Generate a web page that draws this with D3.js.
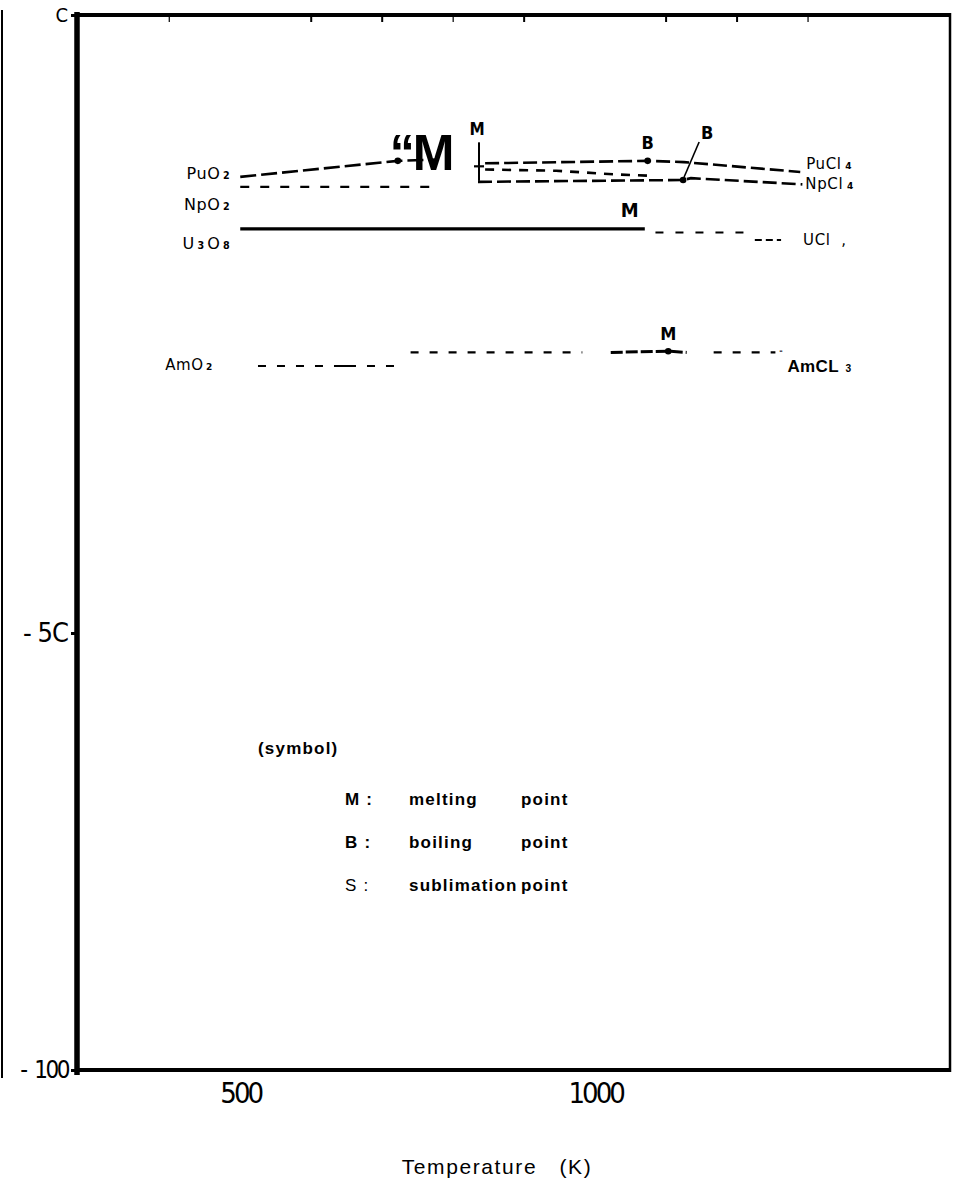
<!DOCTYPE html>
<html>
<head>
<meta charset="utf-8">
<script src="https://cdn.jsdelivr.net/npm/d3@7"></script>
<style>
  html, body { margin: 0; padding: 0; background: #fff; }
  svg { display: block; }
</style>
</head>
<body>
<svg id="chart" width="965" height="1189"></svg>
<script>
// Free energy lines (kcal per g-atom) against temperature (K) for actinide oxides and chlorides.
const puO2   = [[500, -13.1], [722, -11.8], [777, -11.7]];
const npO2   = [[500, -13.9], [775, -13.9]];
const puCl4  = [[845, -12.0], [1074, -11.8], [1125, -11.9], [1289, -12.7]];
const npCl4  = [[835, -13.5], [1124, -13.35], [1135, -13.2], [1292, -13.7]];
const clMid  = [[845, -12.5], [945, -12.6], [1030, -12.9], [1075, -13.0]];
const u3O8   = [[500, -17.3], [1070, -17.3]];
const uCl4a  = [[1085, -17.6], [1215, -17.6]];
const uCl4b  = [[1225, -18.2], [1262, -18.2]];
const amO2   = [[525, -28.4], [728, -28.4]];
const amCl3a = [[740, -27.3], [982, -27.3]];
const amCl3b = [[1022, -27.3], [1103, -27.2], [1129, -27.3]];
const amCl3c = [[1167, -27.3], [1254, -27.3]];

// transition points: [temperature, value, symbol]
const transitions = [
  [722, -11.8, ""],
  [1074, -11.8, "B"],
  [1124, -13.35, "B"],
  [1103, -27.2, "M"]
];

const yTicks = [0, -50, -100];
const yTickText = ["C", "- 5C", "-\u00a0\u00a0100"];
const xTicks = [500, 1000];
const xTickText = ["500", "1000"];
const topTicks = [400, 600, 700, 800, 900, 1100, 1200, 1300];

const legendTitle = "(symbol)";
const legendRows = [
  ["M :", "melting", "point"],
  ["B :", "boiling", "point"],
  ["S :", "sublimation", "point"]
];

const svg = d3.select("#chart");
const L = 77, R = 950, T = 15, B = 1070;

const x = d3.scaleLinear().domain([270, 1500]).range([L, R]);
const y = d3.scaleLinear().domain([0, -50, -100]).range([T, 633, B]);

const line = d3.line().x(d => x(d[0])).y(d => y(d[1]));

// frame
svg.append("line").attr("x1", 2).attr("x2", 2).attr("y1", 10).attr("y2", 1078)
  .attr("stroke", "#000").attr("stroke-width", 2);
svg.append("line").attr("x1", L).attr("x2", R).attr("y1", T).attr("y2", T)
  .attr("stroke", "#000").attr("stroke-width", 4);
svg.append("line").attr("x1", L).attr("x2", R).attr("y1", B).attr("y2", B)
  .attr("stroke", "#000").attr("stroke-width", 4);
svg.append("line").attr("x1", R).attr("x2", R).attr("y1", T - 2).attr("y2", B + 2)
  .attr("stroke", "#000").attr("stroke-width", 2.5);
svg.append("line").attr("x1", L).attr("x2", L).attr("y1", T - 3).attr("y2", B + 5)
  .attr("stroke", "#000").attr("stroke-width", 5.5);

// small tick marks hanging from the top frame
svg.append("g").selectAll("line").data(topTicks).join("line")
  .attr("x1", d => x(d)).attr("x2", d => x(d))
  .attr("y1", T).attr("y2", T + 7)
  .attr("stroke", "#000").attr("stroke-width", d => (d === 400 || d === 800 || d === 1300) ? 1.2 : 2);

// y axis
const narrow = "'Liberation Sans Narrow', 'DejaVu Sans Condensed', sans-serif";
const yAxis = d3.axisLeft(y).tickValues(yTicks).tickSize(4).tickSizeOuter(0)
  .tickFormat((d, i) => yTickText[i]);
const gy = svg.append("g").attr("transform", `translate(${L - 2},0)`).call(yAxis);
gy.select(".domain").remove();
gy.selectAll(".tick text")
  .attr("fill", "#000")
  .attr("x", -7)
  .style("font-family", narrow)
  .style("font-size", (d, i) => ["20px", "27px", "24px"][i])
  .style("letter-spacing", (d, i) => ["0px", "-1px", "-2.5px"][i]);
gy.selectAll(".tick line").attr("stroke-width", 3).attr("stroke", "#000");

// x axis labels
const xAxis = d3.axisBottom(x).tickValues(xTicks).tickSize(0)
  .tickFormat((d, i) => xTickText[i]);
const gx = svg.append("g").attr("transform", `translate(0,${B})`).call(xAxis);
gx.select(".domain").remove();
gx.selectAll(".tick text")
  .attr("fill", "#000")
  .attr("y", 33)
  .attr("dy", 0)
  .style("font-family", narrow)
  .style("font-size", "29px")
  .style("letter-spacing", "-3px");

svg.append("text").attr("x", 497).attr("y", 1174).attr("text-anchor", "middle")
  .style("font-family", "'Liberation Sans', Arial, sans-serif")
  .style("font-size", "21px").style("letter-spacing", "1.6px")
  .text("Temperature\u00a0\u00a0 (K)");

// data lines
function drawLine(data, dash, width) {
  svg.append("path").datum(data).attr("d", line)
    .attr("fill", "none").attr("stroke", "#000")
    .attr("stroke-width", width).attr("stroke-dasharray", dash);
}
drawLine(puO2, "16,5", 2.6);
drawLine(npO2, "9,11", 2.2);
drawLine(puCl4, "14,5", 2.6);
drawLine(npCl4, "14,5", 2.6);
drawLine(clMid, "9,8", 2.6);
drawLine(u3O8, null, 3.2);
drawLine(uCl4a, "8,12", 2);
drawLine(uCl4b, "7,4", 2);
drawLine(amO2, "8,11,8,11,8,11,8,11,22,11,8,11", 2.2);
drawLine(amCl3a, "8,11", 2.2);
drawLine(amCl3b, "12,3", 3);
drawLine(amCl3c, "8,11", 2.2);

// transition dots
svg.append("g").selectAll("circle").data(transitions).join("circle")
  .attr("cx", d => x(d[0])).attr("cy", d => y(d[1])).attr("r", 3.3).attr("fill", "#000");

const bold = "'Liberation Sans', Arial, sans-serif";
function label(px, py, txt, size) {
  return svg.append("text").attr("x", px).attr("y", py)
    .attr("text-anchor", "middle")
    .style("font-family", narrow).style("font-size", size + "px")
    .style("font-weight", "bold").text(txt);
}

// symbol labels on the transition points
label(x(transitions[1][0]), y(transitions[1][1]) - 12, "B", 18);
label(x(transitions[2][0]) + 24, y(transitions[2][1]) - 41, "B", 18);
svg.append("line")
  .attr("x1", x(transitions[2][0]) + 16).attr("y1", y(transitions[2][1]) - 38)
  .attr("x2", x(transitions[2][0]) + 1).attr("y2", y(transitions[2][1]) - 3)
  .attr("stroke", "#000").attr("stroke-width", 1.6);
label(x(transitions[3][0]), y(transitions[3][1]) - 11, "M", 18);
label(x(u3O8[1][0]) - 15, y(u3O8[1][1]) - 12, "M", 20);

// melting mark above the chloride pair
const mx = x(835) + 1;
label(mx - 2, y(-12.0) - 28, "M", 17);
svg.append("line").attr("x1", mx).attr("x2", mx)
  .attr("y1", y(-12.0) - 21).attr("y2", y(-13.5) - 1)
  .attr("stroke", "#000").attr("stroke-width", 2);
svg.append("line").attr("x1", mx - 5).attr("x2", mx + 5)
  .attr("y1", y(-12.0) + 3).attr("y2", y(-12.0) + 3)
  .attr("stroke", "#000").attr("stroke-width", 2.2);
svg.append("text").attr("x", x(777) - 47).attr("y", y(-11.7) + 10)
  .style("font-family", bold).style("font-size", "50px").style("font-weight", "bold")
  .style("letter-spacing", "-2px")
  .text("\u201cM");

// species labels; parts are [text, isSubscript]
const species = "'DejaVu Sans', sans-serif";
function formula(px, py, parts, anchor, size, weight) {
  const t = svg.append("text").attr("x", px).attr("y", py)
    .attr("text-anchor", anchor || "start")
    .style("font-family", weight ? bold : species)
    .style("font-weight", weight || "normal")
    .style("font-size", size + "px")
    .style("letter-spacing", weight ? "0.4px" : "0.6px");
  parts.forEach(p => {
    const s = t.append("tspan").text(p[0]);
    if (p[1]) s.style("font-size", (size * 0.6) + "px").style("font-weight", "bold");
  });
  return t;
}
const lx = x(500) - 10;
formula(lx, y(puO2[0][1]) + 2, [["PuO"], ["\u20092", 1]], "end", 16);
formula(lx, y(npO2[0][1]) + 23, [["NpO"], ["\u20092", 1]], "end", 16);
formula(lx, y(u3O8[0][1]) + 20, [["U"], ["\u20093\u2009", 1], ["O"], ["\u20098", 1]], "end", 16);
formula(x(amO2[0][0]) - 45, y(amO2[0][1]) + 4, [["AmO"], ["\u20092", 1]], "end", 15);

formula(x(puCl4[3][0]) + 6, y(puCl4[3][1]) - 3, [["PuCl"], ["\u00a04", 1]], "start", 15);
formula(x(npCl4[3][0]) + 3, y(npCl4[3][1]) + 5, [["NpCl"], ["\u00a04", 1]], "start", 15);
formula(x(uCl4b[1][0]) + 22, y(uCl4b[1][1]) + 5, [["UCl\u00a0\u00a0,"]], "start", 15);
svg.append("text").attr("x", x(amCl3c[1][0]) + 4).attr("y", y(amCl3c[1][1]) + 4)
  .style("font-family", bold).style("font-size", "9px").text("\u201c");
formula(x(amCl3c[1][0]) + 12, y(amCl3c[1][1]) + 20, [["AmCL"], ["\u00a0\u00a03", 1]], "start", 17, "bold");

// symbol key
const keyStyle = t => t.style("font-family", bold).style("font-size", "17px").style("letter-spacing", "1.2px");
keyStyle(svg.append("text").attr("x", 258).attr("y", 754).style("font-weight", "bold").text(legendTitle));
const rowY = [805, 848, 891];
legendRows.forEach((r, i) => {
  keyStyle(svg.append("text").attr("x", 345).attr("y", rowY[i])
    .style("font-weight", i === 2 ? "normal" : "bold").text(r[0]));
  keyStyle(svg.append("text").attr("x", 409).attr("y", rowY[i])
    .style("font-weight", "bold").text(r[1]));
  keyStyle(svg.append("text").attr("x", 521).attr("y", rowY[i])
    .style("font-weight", "bold").text(r[2]));
});
</script>
</body>
</html>
